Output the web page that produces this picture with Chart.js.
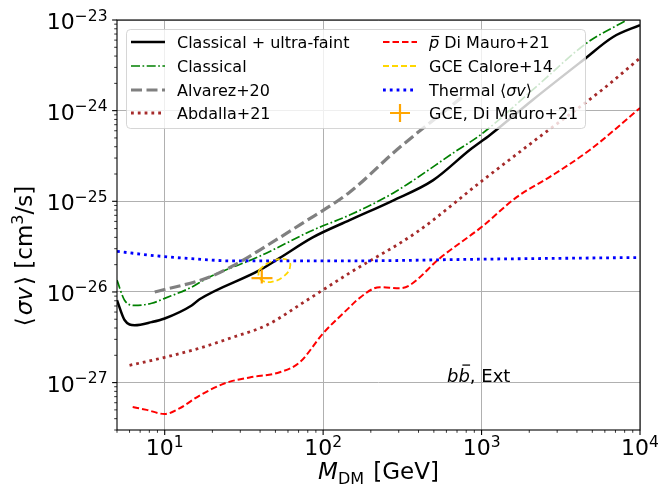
<!DOCTYPE html>
<html>
<head>
<meta charset="utf-8">
<script src="https://cdn.jsdelivr.net/npm/chart.js@4.4.1/dist/chart.umd.min.js"></script>
<style>
  html, body { margin: 0; padding: 0; background: #fff; }
  canvas { display: block; }
</style>
</head>
<body>
<canvas id="chart" width="659" height="490"></canvas>
<script>
const X_TICKS = [10, 100, 1000, 10000];
const X_TICK_EXP = ['1', '2', '3', '4'];
const Y_TICKS = [1e-27, 1e-26, 1e-25, 1e-24, 1e-23];
const Y_TICK_EXP = ['\u221227', '\u221226', '\u221225', '\u221224', '\u221223'];

// Classical + ultra-faint
const CUF_MASS = [5, 5.58, 6.46, 8.28, 10, 14.8, 16.6, 39.8, 53, 86, 147, 276, 493, 845, 1130, 2110, 4370, 6760, 10000];
const CUF_SIGMA = [8.1e-27, 4.9e-27, 4.3e-27, 4.65e-27, 5.1e-27, 7.1e-27, 8.3e-27, 1.74e-26, 2.36e-26, 4.0e-26, 6.2e-26, 1.02e-25, 1.7e-25, 3.7e-25, 5.4e-25, 1.32e-24, 3.6e-24, 6.5e-24, 8.8e-24];

// Classical
const CL_MASS = [5, 5.58, 6.46, 8.28, 10, 14.8, 18.4, 39.8, 86, 147, 276, 710, 980, 2240, 4630, 8280];
const CL_SIGMA = [1.35e-26, 8.1e-27, 7.1e-27, 7.5e-27, 8.5e-27, 1.13e-26, 1.41e-26, 2.48e-26, 4.8e-26, 7.05e-26, 1.23e-25, 3.7e-25, 5.37e-25, 1.87e-24, 5.6e-24, 1e-23];

// Alvarez+20
const ALV_MASS = [8.65, 19.2, 29.8, 39.8, 71.3, 147, 292, 785];
const ALV_SIGMA = [1.0e-26, 1.46e-26, 2.14e-26, 2.9e-26, 5.5e-26, 1.26e-25, 3.7e-25, 1.49e-24];

// Abdalla+21
const ABD_MASS = [6.0, 10, 16.6, 26.9, 44, 78.9, 147, 390, 1020, 2410, 5750, 10000];
const ABD_SIGMA = [1.55e-27, 1.9e-27, 2.4e-27, 3.16e-27, 4.3e-27, 8.1e-27, 1.62e-26, 4.57e-26, 1.71e-25, 5.4e-25, 1.69e-24, 3.8e-24];

// pbar Di Mauro+21
const PBAR_MASS = [6.28, 7.7, 10, 12.4, 16.6, 24.7, 34.4, 53.2, 71.3, 100, 147, 163, 228, 305, 353, 546, 1000, 1675, 2700, 4840, 10000];
const PBAR_SIGMA = [5.37e-28, 5.0e-28, 4.5e-28, 5.2e-28, 7.2e-28, 1.0e-27, 1.14e-27, 1.3e-27, 1.68e-27, 3.5e-27, 6.8e-27, 8.1e-27, 1.13e-26, 1.1e-26, 1.19e-26, 2.36e-26, 5.2e-26, 1.12e-25, 1.86e-25, 3.7e-25, 1.07e-24];

// GCE Calore+14 contour (closed)
const CAL_MASS = [39.3, 44.8, 53.2, 60.7, 61.6, 56.5, 48.8, 42.2, 39.3, 39.3];
const CAL_SIGMA = [1.74e-26, 2.08e-26, 2.3e-26, 2.2e-26, 1.83e-26, 1.49e-26, 1.31e-26, 1.31e-26, 1.49e-26, 1.74e-26];

// Thermal <sigma v>
const TH_MASS = [5, 10, 14.8, 26.9, 147, 1020, 10000];
const TH_SIGMA = [2.8e-26, 2.45e-26, 2.33e-26, 2.2e-26, 2.2e-26, 2.3e-26, 2.4e-26];

// GCE, Di Mauro+21
const GCE_MASS = [41.0];
const GCE_SIGMA = [1.42e-26];
const GCE_MASS_RANGE = [35.3, 47.9];
const GCE_SIGMA_RANGE = [1.24e-26, 1.77e-26];

const STYLES = {
  cuf: { color: '#000000', width: 2.5, dash: [] },
  cl: { color: '#008000', width: 1.7, dash: [9, 2.5, 1.7, 2.5] },
  alv: { color: '#808080', width: 3.2, dash: [11, 4.5] },
  abd: { color: '#a52a2a', width: 2.8, dash: [2.8, 4] },
  pbar: { color: '#ff0000', width: 2.0, dash: [6.5, 3] },
  cal: { color: '#ffd700', width: 1.8, dash: [6, 3] },
  th: { color: '#0000ff', width: 2.8, dash: [2.8, 4] },
  gce: { color: '#ffa500', width: 2.2, dash: [] },
};

const FONT = '"DejaVu Sans", sans-serif';

function pts(xs, ys) {
  return xs.map((x, i) => ({ x, y: ys[i] }));
}

function lineSet(label, xs, ys, st, order, smooth) {
  const ds = {
    label,
    data: pts(xs, ys),
    showLine: true,
    borderColor: st.color,
    borderWidth: st.width,
    borderDash: st.dash,
    pointRadius: 0,
    fill: false,
    tension: 0,
    order,
  };
  if (smooth === 'mono') ds.cubicInterpolationMode = 'monotone';
  else if (smooth) ds.tension = smooth;
  return ds;
}

const datasets = [
  lineSet('GCE, Di Mauro+21', GCE_MASS_RANGE, [GCE_SIGMA[0], GCE_SIGMA[0]], STYLES.gce, 1),
  lineSet('GCE, Di Mauro+21 (y)', [GCE_MASS[0], GCE_MASS[0]], GCE_SIGMA_RANGE, STYLES.gce, 1),
  lineSet('Thermal', TH_MASS, TH_SIGMA, STYLES.th, 2, 'mono'),
  lineSet('GCE Calore+14', CAL_MASS, CAL_SIGMA, STYLES.cal, 3, 0.45),
  lineSet('pbar Di Mauro+21', PBAR_MASS, PBAR_SIGMA, STYLES.pbar, 4, 'mono'),
  lineSet('Abdalla+21', ABD_MASS, ABD_SIGMA, STYLES.abd, 5, 'mono'),
  lineSet('Alvarez+20', ALV_MASS, ALV_SIGMA, STYLES.alv, 6, 'mono'),
  lineSet('Classical', CL_MASS, CL_SIGMA, STYLES.cl, 7, 'mono'),
  lineSet('Classical + ultra-faint', CUF_MASS, CUF_SIGMA, STYLES.cuf, 8, 'mono'),
];

const norm = (s) => `${s}px ${FONT}`;
const ital = (s) => `italic ${s}px ${FONT}`;

// legend: [column, row, style key, text runs]
const LEGEND_ITEMS = [
  [0, 0, 'cuf', [{ t: 'Classical + ultra-faint' }]],
  [0, 1, 'cl', [{ t: 'Classical' }]],
  [0, 2, 'alv', [{ t: 'Alvarez+20' }]],
  [0, 3, 'abd', [{ t: 'Abdalla+21' }]],
  [1, 0, 'pbar', [{ t: 'p', it: true, bar: 'x' }, { t: ' Di Mauro+21' }]],
  [1, 1, 'cal', [{ t: 'GCE Calore+14' }]],
  [1, 2, 'th', [{ t: 'Thermal \u27e8' }, { t: '\u03c3v', it: true }, { t: '\u27e9' }]],
  [1, 3, 'gce', [{ t: 'GCE, Di Mauro+21' }]],
];

function drawRuns(ctx, runs, x, y, size, align) {
  let total = 0;
  runs.forEach((r) => {
    const s = r.size || size;
    r.f = r.it ? ital(s) : norm(s);
    ctx.font = r.f;
    r.w = ctx.measureText(r.t).width;
    total += r.w + (r.gap || 0);
  });
  let cx = align === 'center' ? x - total / 2 : align === 'right' ? x - total : x;
  ctx.textAlign = 'left';
  ctx.textBaseline = 'alphabetic';
  runs.forEach((r) => {
    const s = r.size || size;
    ctx.font = r.f;
    ctx.fillText(r.t, cx, y + (r.dy || 0));
    if (r.bar) {
      const top = r.bar === 'x' ? 0.56 * s : 0.78 * s;
      const by = y + (r.dy || 0) - top - 0.16 * s;
      ctx.save();
      ctx.strokeStyle = ctx.fillStyle;
      ctx.lineWidth = Math.max(1, s * 0.07);
      ctx.beginPath();
      const sh = r.bar === 'x' ? 0.16 * s : 0.22 * s;
      ctx.moveTo(cx + sh, by);
      ctx.lineTo(cx + r.w * 0.95 + sh * 0.2, by);
      ctx.stroke();
      ctx.restore();
    }
    cx += r.w + (r.gap || 0);
  });
  return total;
}

const decorPlugin = {
  id: 'decor',
  afterDraw(chart) {
    const { ctx, chartArea: a, scales } = chart;
    const xs = scales.x, ys = scales.y;
    ctx.save();
    // spines
    ctx.strokeStyle = '#000';
    ctx.lineWidth = 1.1;
    ctx.strokeRect(a.left, a.top, a.right - a.left, a.bottom - a.top);

    // tick marks (major + minor), outward
    for (let d = 0; d <= 4; d++) {
      for (let k = 1; k <= 9; k++) {
        const v = k * Math.pow(10, d);
        if (v < xs.min || v > xs.max) continue;
        const px = xs.getPixelForValue(v);
        ctx.lineWidth = k === 1 ? 1.1 : 0.8;
        ctx.beginPath();
        ctx.moveTo(px, a.bottom);
        ctx.lineTo(px, a.bottom + (k === 1 ? 4.9 : 2.8));
        ctx.stroke();
      }
    }
    for (let d = -28; d <= -23; d++) {
      for (let k = 1; k <= 9; k++) {
        const v = k * Math.pow(10, d);
        if (v < ys.min * 0.999 || v > ys.max * 1.001) continue;
        const py = ys.getPixelForValue(v);
        ctx.lineWidth = k === 1 ? 1.1 : 0.8;
        ctx.beginPath();
        ctx.moveTo(a.left, py);
        ctx.lineTo(a.left - (k === 1 ? 4.9 : 2.8), py);
        ctx.stroke();
      }
    }

    ctx.fillStyle = '#000';
    // x tick labels
    X_TICKS.forEach((v, i) => {
      const px = xs.getPixelForValue(v);
      drawRuns(ctx, [{ t: '10' }, { t: X_TICK_EXP[i], size: 15.5, dy: -8.5 }], px, a.bottom + 25, 22, 'center');
    });
    // y tick labels
    Y_TICKS.forEach((v, i) => {
      const py = ys.getPixelForValue(v);
      drawRuns(ctx, [{ t: '10' }, { t: Y_TICK_EXP[i], size: 15.5, dy: -8.5 }], a.left - 9.5, py + 9, 22, 'right');
    });

    // axis titles
    drawRuns(ctx, [{ t: 'M', it: true }, { t: 'DM', size: 16, dy: 4.5, gap: 2 }, { t: ' [GeV]' }], (a.left + a.right) / 2, 479, 23, 'center');
    ctx.save();
    ctx.translate(32, 256);
    ctx.rotate(-Math.PI / 2);
    drawRuns(ctx, [
      { t: '\u27e8', gap: 2 }, { t: '\u03c3v', it: true, gap: 2 }, { t: '\u27e9' },
      { t: ' [cm' }, { t: '3', size: 16, dy: -9 }, { t: '/s]' },
    ], 0, 0, 23, 'center');
    ctx.restore();

    // annotation
    drawRuns(ctx, [{ t: 'b', it: true }, { t: 'b', it: true, bar: 'b' }, { t: ', Ext' }], 447, 382, 18, 'left');

    // legend
    const L = { x: 126, y: 29, w: 459, h: 99, r: 4 };
    ctx.beginPath();
    ctx.roundRect(L.x + 0.5, L.y + 0.5, L.w, L.h, L.r);
    ctx.fillStyle = 'rgba(255,255,255,0.8)';
    ctx.fill();
    ctx.strokeStyle = 'rgba(204,204,204,0.8)';
    ctx.lineWidth = 1;
    ctx.stroke();
    const colHandle = [131, 383];
    const colText = [177, 429];
    const rowY = [42, 66, 90, 113];
    LEGEND_ITEMS.forEach(([c, r, key, runs]) => {
      const st = STYLES[key];
      const y = rowY[r];
      ctx.strokeStyle = st.color;
      ctx.lineWidth = st.width;
      if (key === 'gce') {
        const cx = colHandle[c] + 17;
        ctx.setLineDash([]);
        ctx.beginPath();
        ctx.moveTo(cx - 10, y); ctx.lineTo(cx + 10, y);
        ctx.moveTo(cx, y - 9); ctx.lineTo(cx, y + 9);
        ctx.stroke();
      } else {
        ctx.setLineDash(st.dash);
        ctx.beginPath();
        ctx.moveTo(colHandle[c], y);
        ctx.lineTo(colHandle[c] + 34, y);
        ctx.stroke();
        ctx.setLineDash([]);
      }
      ctx.fillStyle = '#000';
      drawRuns(ctx, runs.map((q) => ({ ...q })), colText[c], y + 6, 16, 'left');
    });
    ctx.restore();
  },
};

const axisCommon = {
  type: 'logarithmic',
  ticks: { display: false },
  grid: { color: '#b0b0b0', lineWidth: 1, drawTicks: false },
  border: { display: false },
};

new Chart(document.getElementById('chart'), {
  type: 'scatter',
  data: { datasets },
  options: {
    responsive: false,
    animation: false,
    layout: { padding: { left: 117, right: 19, top: 20, bottom: 60 } },
    plugins: { legend: { display: false }, tooltip: { enabled: false } },
    scales: {
      x: {
        ...axisCommon,
        min: 5,
        max: 10000,
        afterBuildTicks: (axis) => { axis.ticks = X_TICKS.map((v) => ({ value: v })); },
      },
      y: {
        ...axisCommon,
        min: 3e-28,
        max: 1e-23,
        afterBuildTicks: (axis) => { axis.ticks = Y_TICKS.map((v) => ({ value: v })); },
      },
    },
  },
  plugins: [decorPlugin],
});
</script>
</body>
</html>
